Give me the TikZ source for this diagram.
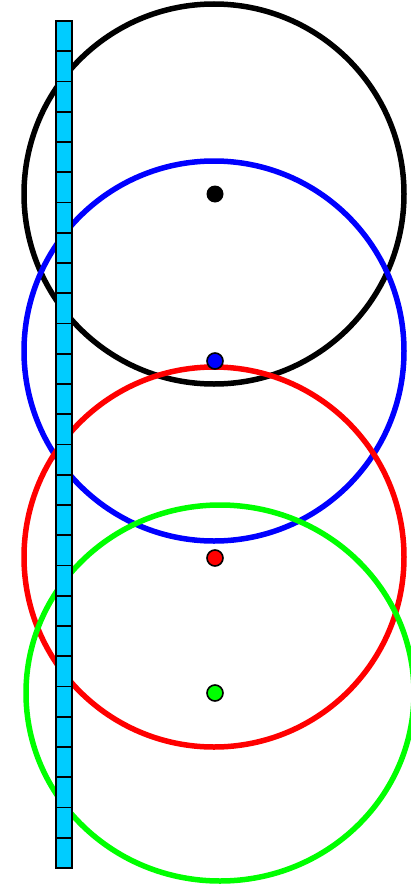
\documentclass[tikz,border=0pt]{standalone}
\definecolor{barcyan}{RGB}{0,204,255}
\definecolor{ringblue}{RGB}{0,0,255}
\definecolor{ringred}{RGB}{255,0,0}
\definecolor{ringgreen}{RGB}{0,255,0}
\begin{document}
\begin{tikzpicture}[x=1pt,y=-1pt,
  ring/.style={line width=5.5pt},
  dot/.style={draw=black,line width=1.6pt},
  cell/.style={draw=black,fill=barcyan,line width=1.6pt}]
\useasboundingbox (0,0) rectangle (410,886);
% rings
\draw[ring,black] (214,194) circle (190);
\draw[ring,ringblue] (214,351) circle (190);
\draw[ring,ringred] (214,557) circle (190);
\draw[ring,ringgreen] (220,693) ellipse [x radius=194, y radius=188];
% centre dots
\fill[black] (215,194) circle (8.5);
\draw[dot,fill=ringblue] (215,361) circle (8);
\draw[dot,fill=ringred] (215,558) circle (8);
\draw[dot,fill=ringgreen] (215,693) circle (8);
% bar
\foreach \i in {0,...,27} {
  \draw[cell] (56,{21+30.25*\i}) rectangle (72,{21+30.25*(\i+1)});
}
\end{tikzpicture}
\end{document}
